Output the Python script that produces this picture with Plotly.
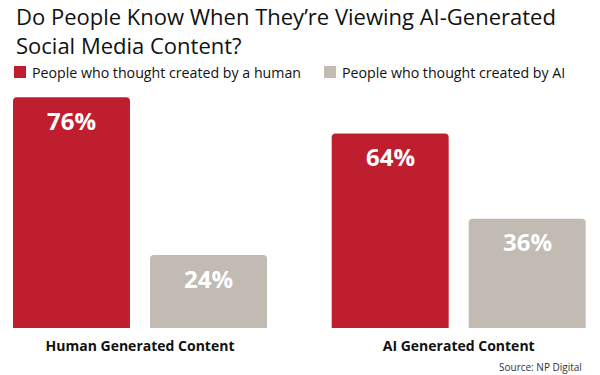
import plotly.graph_objects as go

# ---- data ----
title_lines = ["Do People Know When They’re Viewing AI-Generated", "Social Media Content?"]
categories = ["Human Generated Content", "AI Generated Content"]
series_names = ["People who thought created by a human", "People who thought created by AI"]
thought_human = [76, 64]
thought_ai = [24, 36]
source_text = "Source: NP Digital"

# ---- style ----
RED = "#BE1E2D"
GRAY = "#C1BBB4"
FONT = "Open Sans"
W, H = 600, 375
MT, MB = 85, 47
PLOT_H = H - MT - MB
BAR_W = 0.367
OFFSETS = [-0.3985, 0.0314]
COLORS = [RED, GRAY]
SERIES = [thought_human, thought_ai]


def py(px_from_top):
    """convert pixel y (from top of figure) to paper coordinate"""
    return (H - MB - px_from_top) / PLOT_H


x_idx = list(range(len(categories)))

fig = go.Figure()
for name, vals, col, off in zip(series_names, SERIES, COLORS, OFFSETS):
    fig.add_trace(go.Bar(
        x=x_idx, y=vals, name=name, marker_color=col, marker_line_width=0,
        width=BAR_W, offset=off, showlegend=False, hoverinfo="skip",
    ))

annotations = []
# title (two lines, one text block)
annotations.append(dict(
    x=14 / W, y=py(30.5), xref="paper", yref="paper",
    text="<br>".join(title_lines), align="left",
    showarrow=False, xanchor="left", yanchor="middle",
    font=dict(family=FONT, size=22, color="#111111"),
))

# value labels inside bars
for vals, off in zip(SERIES, OFFSETS):
    for i, v in zip(x_idx, vals):
        annotations.append(dict(
            x=i + off + BAR_W / 2, y=v, xref="x", yref="y",
            text=f"<b>{v}%</b>", showarrow=False, yanchor="middle",
            yshift=-23, font=dict(family=FONT, size=24, color="white"),
        ))

# manual legend
leg_y = 72
leg_x = [14, 324]
shapes = []
for name, col, lx in zip(series_names, COLORS, leg_x):
    shapes.append(dict(
        type="rect", xref="paper", yref="paper",
        x0=lx / W, x1=(lx + 12) / W, y0=py(leg_y + 6), y1=py(leg_y - 6),
        fillcolor=col, line_width=0,
    ))
    annotations.append(dict(
        x=(lx + 16) / W, y=py(leg_y + 0.5), xref="paper", yref="paper",
        text=name, showarrow=False, xanchor="left", yanchor="middle",
        font=dict(family=FONT, size=14.2, color="#111111"),
    ))

# source
annotations.append(dict(
    x=584 / W, y=py(366.5), xref="paper", yref="paper", text=source_text,
    showarrow=False, xanchor="right", yanchor="middle",
    font=dict(family=FONT, size=10, color="#333333"),
))

fig.update_layout(
    width=W, height=H,
    margin=dict(l=0, r=0, t=MT, b=MB),
    paper_bgcolor="white", plot_bgcolor="white",
    barcornerradius=4,
    xaxis=dict(range=[-0.4393, 1.4433], tickvals=x_idx,
               ticktext=[f"<b>{c}</b>" for c in categories],
               tickfont=dict(family=FONT, size=14, color="#111111"),
               showgrid=False, zeroline=False, showline=False, ticks="",
               ticklabelstandoff=8, fixedrange=True),
    yaxis=dict(range=[0, 80], visible=False, fixedrange=True),
    shapes=shapes, annotations=annotations,
    showlegend=False,
)

fig.write_html(
    "out.html",
    config={"displayModeBar": False},
    post_script="document.body.style.margin='0';document.body.style.overflow='hidden';",
)
